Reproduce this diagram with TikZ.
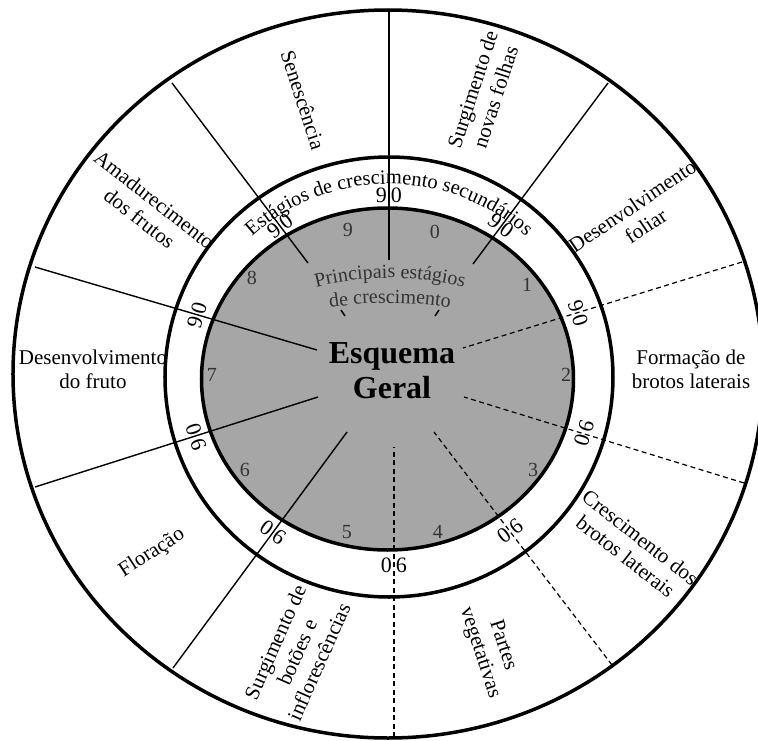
\documentclass[tikz,border=0pt]{standalone}
\usepackage{fontspec}
\setmainfont{Liberation Serif}
\usetikzlibrary{decorations.text}
\definecolor{discgray}{RGB}{166,166,166}
\newcommand{\sectorfont}{\fontsize{21}{24}\selectfont}
\newcommand{\stagefont}{\fontsize{20}{24}\selectfont}
\newcommand{\ringfont}{\fontsize{20.5}{24}\selectfont}

\begin{document}
\begin{tikzpicture}[x=1pt,y=1pt,
    ringline/.style={line width=3.5pt},
    radial/.style={line width=1.4pt},
    dashradial/.style={line width=1.2pt, dash pattern=on 5pt off 3.5pt},
    sector/.style={font=\sectorfont, align=center, inner sep=0pt},
    stage/.style={font=\stagefont, text=black!80, inner sep=0pt},
    pair/.style={font=\fontsize{22}{24}\selectfont, inner sep=0pt},
    hub/.style={font=\fontsize{32}{35}\selectfont\bfseries, anchor=base}]
    \useasboundingbox (-390,-364) rectangle (368,376);

    % disc
    \fill[discgray] (-2.5,-3) ellipse [x radius=186pt, y radius=171pt];

    % sector borders
    \foreach \ox/\oy/\ix/\iy in {-1/366/-1/116, -218/293/-82/113, 218/293/83/112,
        -355/109/-73/26, -355/-111/-72/-21, -217/-292/-43/-56}
      \draw[radial] (\ox,\oy) -- (\ix,\iy);
    \foreach \ox/\oy/\ix/\iy in {352/114/73/28, 354/-107/74/-21,
        222/-289/44/-56, 4/-361/4/-71}
      \draw[dashradial] (\ox,\oy) -- (\ix,\iy);
    \draw[radial] (-45,60) -- (-49,66);
    \draw[radial] (45,60) -- (49,66);

    % rings
    \draw[ringline] (-2,2) ellipse [x radius=375pt, y radius=364pt];
    \draw[ringline] (-1,-1) ellipse [x radius=224pt, y radius=220pt];
    \draw[ringline] (-2.5,-3) ellipse [x radius=186pt, y radius=171pt];

    % main stages
    \foreach \d/\x/\y in {0/45/144, 1/137/91, 2/176/1, 3/143/-94, 4/48/-156,
        5/-43/-156, 6/-145/-94, 7/-178/1, 8/-138/98, 9/-42/146}
      \node[stage] (st\d) at (\x,\y) {\d};

    % secondary stages
    \foreach \x/\y/\r/\a/\b [count=\i] in {-1/181/0/9/0, -110/150/37/9/0,
        111/150/-37/9/0, -193/61/74/9/0, 188/63/107/0/6, 194/-57/73/0/6,
        120/-155/37/0/6, 4/-189/0/0/6, -117/-156/-36/0/6, -194/-61/-72/0/6}
      \node[pair, rotate=\r] (pair\i) at (\x,\y) {\a\hspace{4pt}\b};

    % hub
    \node[hub] (esquema) at (2,13) {Esquema};
    \node[hub] (geral) at (2,-22) {Geral};

    % sector labels
    \node[sector, rotate=-72] (senesc) at (-87,276) {Senescência};
    \node[sector, rotate=72] (folhas) at (94,283) {Surgimento de\\novas folhas};
    \node[sector, rotate=34] (foliar) at (249,160) {Desenvolvimento\\foliar};
    \node[sector] (formacao) at (301,7) {Formação de\\brotos laterais};
    \node[sector, rotate=-38] (cresc) at (243,-171) {Crescimento dos\\brotos laterais};
    \node[sector, rotate=-72] (partes) at (101,-273) {Partes\\vegetativas};
    \node[sector, rotate=66] (botoes) at (-93,-276) {Surgimento de\\botões e\\inflorescências};
    \node[sector, rotate=33] (floracao) at (-238,-177) {Floração};
    \node[sector] (fruto) at (-297,7) {Desenvolvimento\\do fruto};
    \node[sector, rotate=-38] (amadur) at (-243,167) {Amadurecimento\\dos frutos};

    % curved titles
    \path[decorate, decoration={text along path, text align=center,
        text={|\ringfont|Estágios de crescimento secundários}}]
      (-1,-1) ++(140:200pt and 193pt) arc [start angle=140, end angle=40, x radius=200pt, y radius=193pt];
    \path[decorate, decoration={text along path, text align=center,
        text={|\stagefont\color{black!80}|Principais estágios}}]
      (0,-203) ++(120:301pt) arc [start angle=120, end angle=60, radius=301pt];
    \path[decorate, decoration={text along path, text align=center,
        text={|\stagefont\color{black!80}|de crescimento}}]
      (0,-327) ++(105:400pt) arc [start angle=105, end angle=75, radius=400pt];
\end{tikzpicture}
\end{document}
